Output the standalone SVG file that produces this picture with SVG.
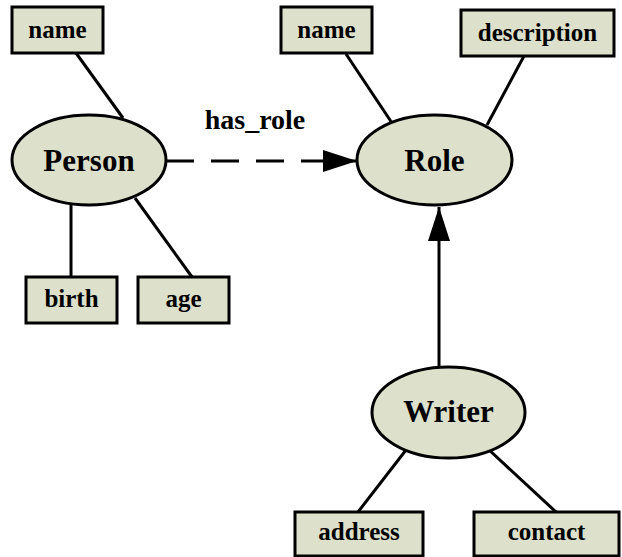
<svg xmlns="http://www.w3.org/2000/svg" width="622" height="557" viewBox="0 0 622 557">
<style>
.box{fill:#dde0cb;stroke:#000;stroke-width:3}
.ent{fill:#dde0cb;stroke:#000;stroke-width:3}
.lt{font-family:"Liberation Serif","Times New Roman",serif;font-weight:bold;font-size:25px;text-anchor:middle;fill:#000}
.et{font-family:"Liberation Serif","Times New Roman",serif;font-weight:bold;font-size:31px;text-anchor:middle;fill:#000}
.edge{stroke:#000;stroke-width:3;fill:none}
</style>
<defs>
<marker id="ah" markerWidth="34" markerHeight="22" refX="34" refY="11" orient="auto" markerUnits="userSpaceOnUse">
<path d="M0,0 L34,11 L0,22 Z" fill="#000"/>
</marker>
</defs>
<rect width="622" height="557" fill="#fff"/>
<g id="connectors">
<line class="edge" x1="76" y1="53" x2="123" y2="118"/>
<line class="edge" x1="71" y1="205" x2="71" y2="277"/>
<line class="edge" x1="135" y1="198" x2="192" y2="277"/>
<line class="edge" x1="346" y1="54" x2="392" y2="123"/>
<line class="edge" x1="524" y1="56" x2="487" y2="125"/>
<line class="edge" x1="406" y1="450" x2="358" y2="512"/>
<line class="edge" x1="487" y1="448" x2="556" y2="512"/>
<line class="edge" x1="166" y1="161" x2="357" y2="161" stroke-dasharray="28 17" marker-end="url(#ah)"/>
<line class="edge" x1="439" y1="367" x2="439" y2="207" marker-end="url(#ah)"/>
<text class="lt" x="255" y="129" style="font-size:28px">has_role</text>
</g>
<g id="person">
<ellipse class="ent" cx="89" cy="160" rx="77" ry="45"/>
<text class="et" x="89" y="171">Person</text>
</g>
<g id="role">
<ellipse class="ent" cx="434.5" cy="160" rx="77.5" ry="45"/>
<text class="et" x="434.5" y="171">Role</text>
</g>
<g id="writer">
<ellipse class="ent" cx="448.5" cy="412.5" rx="76.5" ry="45.5"/>
<text class="et" x="448.5" y="422">Writer</text>
</g>
<g id="person_name">
<rect class="box" x="12" y="7" width="91" height="46"/>
<text class="lt" x="57.5" y="38">name</text>
</g>
<g id="person_birth">
<rect class="box" x="26" y="277" width="91" height="46"/>
<text class="lt" x="71.5" y="307">birth</text>
</g>
<g id="person_age">
<rect class="box" x="138" y="277" width="91" height="46"/>
<text class="lt" x="183.5" y="307">age</text>
</g>
<g id="role_name">
<rect class="box" x="281" y="7" width="91" height="46"/>
<text class="lt" x="326.5" y="38">name</text>
</g>
<g id="role_description">
<rect class="box" x="461" y="10" width="153" height="46"/>
<text class="lt" x="537.5" y="41">description</text>
</g>
<g id="writer_address">
<rect class="box" x="295" y="512" width="128" height="44"/>
<text class="lt" x="359" y="540">address</text>
</g>
<g id="writer_contact">
<rect class="box" x="474" y="512" width="145" height="44"/>
<text class="lt" x="546.5" y="540">contact</text>
</g>
</svg>
